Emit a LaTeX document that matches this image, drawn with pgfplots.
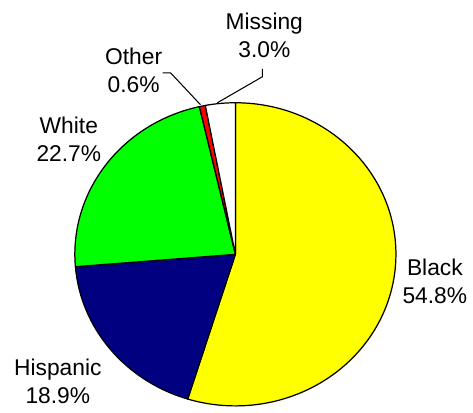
\documentclass[border=0pt]{standalone}
\usepackage{fontspec}
\setmainfont{Liberation Sans}
\usepackage{pgfplots}
\usepackage{pgfplotstable}
\pgfplotsset{compat=1.18}
\definecolor{pieyellow}{HTML}{FFFF00}
\definecolor{pienavy}{HTML}{000080}
\definecolor{piegreen}{HTML}{00FF00}
\definecolor{piered}{HTML}{FF0000}

% share of each group, in percent; lx,ly = label centre (px from bottom left)
\pgfplotstableread[col sep=comma]{
label,value,color,lx,ly
Black,54.8,pieyellow,436,125
Hispanic,18.9,pienavy,58,25
White,22.7,piegreen,69,267
Other,0.6,piered,134,336
Missing,3.0,white,265,372
}\piedata

\begin{document}
\begin{tikzpicture}
% start and end angle of every slice, clockwise from the top
\def\piecum{90}
\pgfplotsforeachungrouped \i in {0,...,4}{%
  \pgfplotstablegetelem{\i}{value}\of\piedata
  \pgfmathsetmacro\pienext{\piecum-3.6*\pgfplotsretval}%
  \expandafter\let\csname sa\i\endcsname\piecum
  \expandafter\let\csname ea\i\endcsname\pienext
  \pgfplotstablegetelem{\i}{color}\of\piedata
  \expandafter\let\csname co\i\endcsname\pgfplotsretval
  \pgfplotstablegetelem{\i}{label}\of\piedata
  \expandafter\let\csname la\i\endcsname\pgfplotsretval
  \pgfplotstablegetelem{\i}{value}\of\piedata
  \expandafter\let\csname va\i\endcsname\pgfplotsretval
  \pgfplotstablegetelem{\i}{lx}\of\piedata
  \expandafter\let\csname lx\i\endcsname\pgfplotsretval
  \pgfplotstablegetelem{\i}{ly}\of\piedata
  \expandafter\let\csname ly\i\endcsname\pgfplotsretval
  \let\piecum\pienext
}
\begin{axis}[
  x=0.02cm,y=0.02cm,
  xmin=0,xmax=473,ymin=0,ymax=407,
  hide axis,clip=false,
  ]
\path (axis cs:0,0) rectangle (axis cs:473,407);
\pgfplotsinvokeforeach{0,...,4}{%
  \edef\tmp{\noexpand\filldraw[fill=\csname co#1\endcsname,draw=black,line width=0.7pt,line join=round]
    (axis cs:236,152) -- ++(\csname sa#1\endcsname:3.22cm and 3.04cm)
    arc[start angle=\csname sa#1\endcsname,end angle=\csname ea#1\endcsname,x radius=3.22cm,y radius=3.04cm] -- cycle;}%
  \tmp
  \edef\tmp{\noexpand\node[align=center,font=\noexpand\fontsize{13}{16}\noexpand\selectfont]
    at (axis cs:\csname lx#1\endcsname,\csname ly#1\endcsname)
    {\csname la#1\endcsname\noexpand\\\noexpand\pgfmathprintnumber[fixed,fixed zerofill,precision=1,assume math mode=true]{\csname va#1\endcsname}\noexpand\%};}%
  \tmp
}
% leader lines
\draw[line width=0.6pt] (axis cs:163,334) -- (axis cs:171,334) -- (axis cs:201,302);
\draw[line width=0.6pt] (axis cs:218,304) -- (axis cs:263,330) -- (axis cs:263,338);
\end{axis}
\end{tikzpicture}
\end{document}
